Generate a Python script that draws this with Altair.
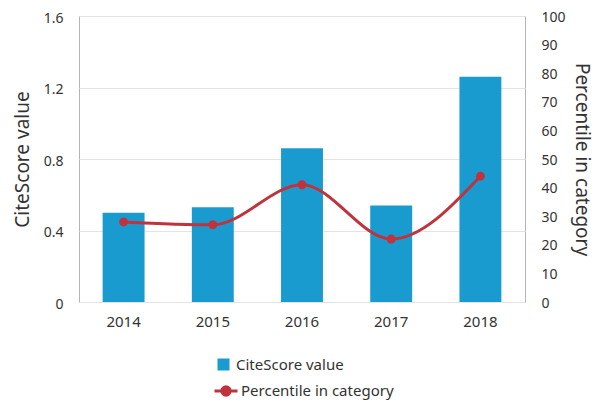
import altair as alt
import pandas as pd

years = ["2014", "2015", "2016", "2017", "2018"]
citescore = [0.50, 0.53, 0.86, 0.54, 1.26]
percentile = [28, 27, 41, 22, 44]
series_names = ["CiteScore value", "Percentile in category"]

BLUE = "#1a9bd0"
RED = "#c0333d"
FONT = "Noto Sans"
TXT = "#333333"

df = pd.DataFrame({"year": years, "cs": citescore, "pct": percentile})

x_enc = alt.X(
    "year:N",
    title=None,
    scale=alt.Scale(paddingInner=0.53, paddingOuter=0.265),
    axis=alt.Axis(labelAngle=0, ticks=False, domain=False, labelPadding=12,
                  labelFontSize=15, labelFont=FONT, labelColor=TXT),
)

bars = alt.Chart(df).transform_calculate(s1="'CiteScore value'").mark_bar().encode(
    x=x_enc,
    y=alt.Y("cs:Q", title="CiteScore value",
            scale=alt.Scale(domain=[0, 1.6]),
            axis=alt.Axis(values=[0, 0.4, 0.8, 1.2, 1.6],
                          labelExpr="datum.value == 0 ? '0' : format(datum.value, '.1f')",
                          ticks=False, domain=False, grid=True, gridColor="#e3e3e3",
                          labelPadding=16, labelOffset=2, labelFontSize=14, labelFont=FONT,
                          labelColor=TXT,
                          titleFontSize=19, titleFont=FONT, titleColor=TXT, titleFontWeight="normal",
                          titlePadding=11)),
    color=alt.Color("s1:N", scale=alt.Scale(domain=[series_names[0]], range=[BLUE]),
                    legend=alt.Legend(title=None, orient="none", legendX=137, legendY=341,
                                      symbolType="square", symbolSize=144, symbolStrokeWidth=0,
                                      labelFontSize=15, labelFont=FONT, labelColor=TXT,
                                      labelOffset=5, padding=0)),
)

line_symbol = "M-1,0L1,0M-0.36,0A0.36,0.36 0 1,0 0.36,0A0.36,0.36 0 1,0 -0.36,0Z"

line = alt.Chart(df).transform_calculate(s2="'Percentile in category'").mark_line(
    interpolate="monotone", strokeWidth=3
).encode(
    x=alt.X("year:N"),
    y=alt.Y("pct:Q", title="Percentile in category",
            scale=alt.Scale(domain=[0, 100]),
            axis=alt.Axis(orient="right", values=list(range(0, 101, 10)),
                          ticks=False, domain=False, grid=False,
                          labelPadding=16, labelOffset=1, labelFontSize=14, labelFont=FONT,
                          labelColor=TXT,
                          titleFontSize=19, titleFont=FONT, titleColor=TXT, titleFontWeight="normal",
                          titlePadding=6)),
    stroke=alt.Stroke("s2:N", scale=alt.Scale(domain=[series_names[1]], range=[RED]),
                      legend=alt.Legend(title=None, orient="none", legendX=134, legendY=362,
                                        symbolType=line_symbol, symbolSize=529,
                                        symbolStrokeWidth=3, symbolFillColor=RED,
                                        labelFontSize=15, labelFont=FONT, labelColor=TXT,
                                        labelOffset=2, padding=0)),
)

points = alt.Chart(df).mark_point(filled=True, size=80, color=RED, opacity=1).encode(
    x=alt.X("year:N"),
    y=alt.Y("pct:Q", scale=alt.Scale(domain=[0, 100]), axis=None),
)

chart = alt.layer(bars, line, points).resolve_scale(
    y="independent", color="independent", stroke="independent"
).properties(
    width=446, height=286,
    padding={"left": 71, "top": 8, "right": 70, "bottom": 100},
    autosize=alt.AutoSizeParams(type="none"),
).configure_view(stroke="#b5b5b5", strokeWidth=1)

chart.save("out.html", embed_options={"renderer": "svg", "actions": False})
